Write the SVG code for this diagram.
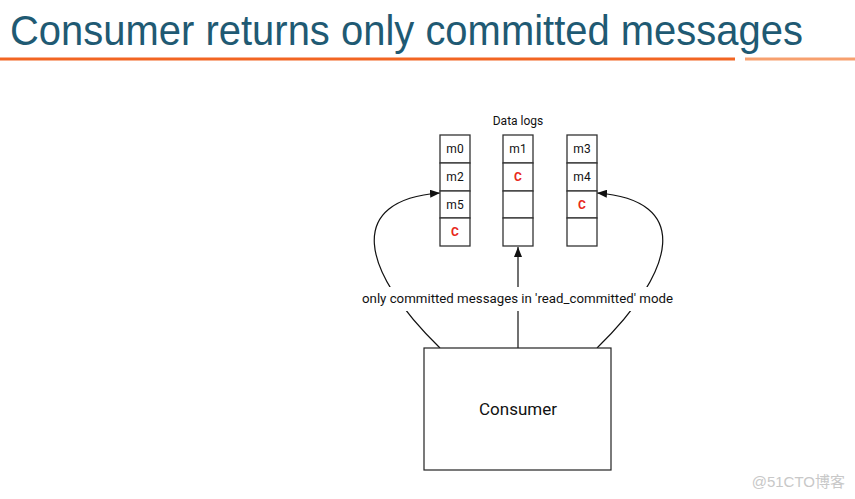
<svg xmlns="http://www.w3.org/2000/svg" width="855" height="499" viewBox="0 0 855 499">
<style>
.cell{fill:#fff;stroke:#333;stroke-width:1.3}
.t{font-family:Roboto,"Liberation Sans",sans-serif;font-size:12px;fill:#111;text-anchor:middle}
.c{font-family:Roboto,"Liberation Sans",sans-serif;font-size:12px;font-weight:bold;fill:#e8291c;text-anchor:middle}
.edge{fill:none;stroke:#111;stroke-width:1.2}
</style>
<defs>
<marker id="ah" viewBox="0 0 10 8" refX="10" refY="4" markerWidth="10" markerHeight="8" markerUnits="userSpaceOnUse" orient="auto">
<path d="M0,0 L10,4 L0,8 Z" fill="#111"/>
</marker>
</defs>
<rect width="855" height="499" fill="#fff"/>
<g id="title">
<text x="10" y="45" font-family="'Liberation Sans',Arial,sans-serif" font-size="42" fill="#1f5a73" textLength="793" lengthAdjust="spacingAndGlyphs">Consumer returns only committed messages</text>
<rect x="0" y="57.5" width="735" height="3" fill="#f26522"/>
<rect x="745" y="57.5" width="110" height="3" fill="#f7a06e"/>
</g>
<g id="connectors">
<path class="edge" d="M440,348 C360,270 345,200 440,193" marker-end="url(#ah)"/>
<path class="edge" d="M597,348 C677,270 692,200 597,193" marker-end="url(#ah)"/>
<path class="edge" d="M518,348 L518,247" marker-end="url(#ah)"/>
<rect x="358" y="287" width="320" height="24" fill="#fff"/>
<text class="t" x="517.5" y="303" textLength="311" lengthAdjust="spacingAndGlyphs">only committed messages in 'read_committed' mode</text>
</g>
<g id="datalogs">
<text class="t" x="518" y="125">Data logs</text>
</g>
<g id="log1">
<rect class="cell" x="440" y="135" width="30" height="28"/>
<rect class="cell" x="440" y="163" width="30" height="28"/>
<rect class="cell" x="440" y="191" width="30" height="27"/>
<rect class="cell" x="440" y="218" width="30" height="28"/>
<text class="t" x="455" y="153">m0</text>
<text class="t" x="455" y="181">m2</text>
<text class="t" x="455" y="209">m5</text>
<text class="c" x="455" y="236">C</text>
</g>
<g id="log2">
<rect class="cell" x="503" y="135" width="30" height="28"/>
<rect class="cell" x="503" y="163" width="30" height="28"/>
<rect class="cell" x="503" y="191" width="30" height="27"/>
<rect class="cell" x="503" y="218" width="30" height="28"/>
<text class="t" x="518" y="153">m1</text>
<text class="c" x="518" y="181">C</text>
</g>
<g id="log3">
<rect class="cell" x="567" y="135" width="30" height="28"/>
<rect class="cell" x="567" y="163" width="30" height="28"/>
<rect class="cell" x="567" y="191" width="30" height="27"/>
<rect class="cell" x="567" y="218" width="30" height="28"/>
<text class="t" x="582" y="153">m3</text>
<text class="t" x="582" y="181">m4</text>
<text class="c" x="582" y="209">C</text>
</g>
<g id="consumer">
<rect x="424" y="348" width="187" height="122" fill="#fff" stroke="#222" stroke-width="1.2"/>
<text class="t" x="518" y="415" font-size="17" style="font-size:17px">Consumer</text>
</g>
<g id="watermark">
<text x="845" y="487" text-anchor="end" font-family="'Liberation Sans','Noto Sans CJK SC',sans-serif" font-size="15" fill="#c8c8c8">@51CTO博客</text>
</g>
</svg>
